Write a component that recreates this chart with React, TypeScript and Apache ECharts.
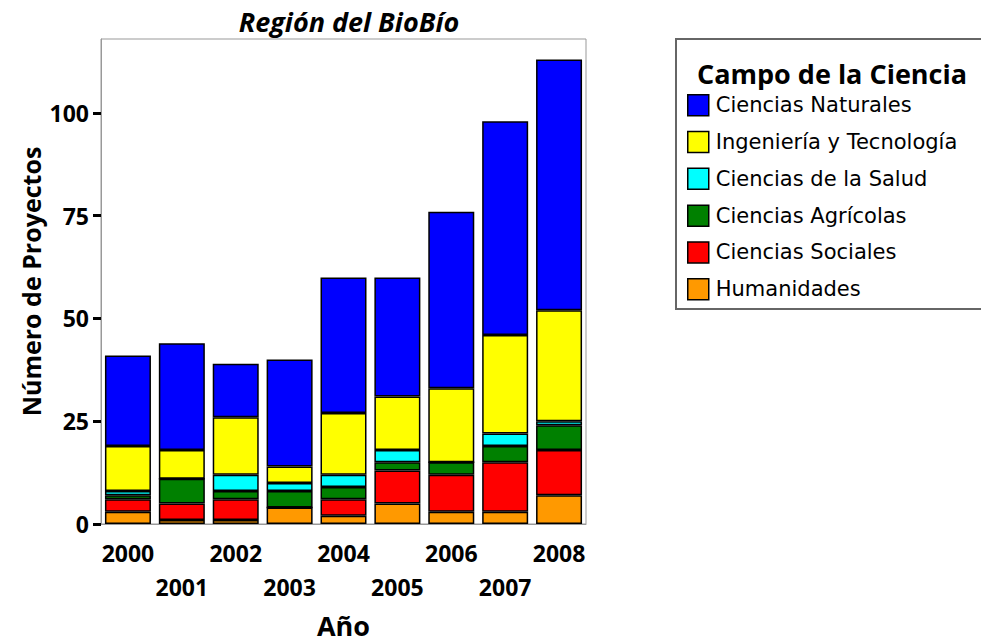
import React, { useEffect, useRef } from "react";
import * as echarts from "echarts";

const years = ["2000", "2001", "2002", "2003", "2004", "2005", "2006", "2007", "2008"];
const humanidades = [3, 1, 1, 4, 2, 5, 3, 3, 7];
const cienciasSociales = [3, 4, 5, 0, 4, 8, 9, 12, 11];
const cienciasAgricolas = [1, 6, 2, 4, 3, 2, 3, 4, 6];
const cienciasSalud = [1, 0, 4, 2, 3, 3, 0, 3, 1];
const ingenieria = [11, 7, 14, 4, 15, 13, 18, 24, 27];
const cienciasNaturales = [22, 26, 13, 26, 33, 29, 43, 52, 61];
const yTicks = [0, 25, 50, 75, 100];

const FONT = "'Open Sans', 'Noto Sans', sans-serif";
const LEGEND_FONT = "'DejaVu Sans', 'Open Sans', sans-serif";

export default function App() {
  const ref = useRef<HTMLDivElement>(null);
  useEffect(() => {
    if (!ref.current) return;
    const chart = echarts.init(ref.current, null, { renderer: "svg" });
    const mk = (name: string, data: number[], color: string) => ({
      name,
      type: "bar",
      stack: "total",
      data,
      barWidth: 46,
      itemStyle: { color, borderColor: "#000", borderWidth: 1.5 },
    });
    const series = [
      mk("Humanidades", humanidades, "#FF9900"),
      mk("Ciencias Sociales", cienciasSociales, "#FF0000"),
      mk("Ciencias Agrícolas", cienciasAgricolas, "#008000"),
      mk("Ciencias de la Salud", cienciasSalud, "#00FFFF"),
      mk("Ingeniería y Tecnología", ingenieria, "#FFFF00"),
      mk("Ciencias Naturales", cienciasNaturales, "#0000FF"),
    ];
    chart.setOption({
      animation: false,
      backgroundColor: "#fff",
      title: {
        text: "Región del BioBío",
        left: 344,
        top: 3,
        textAlign: "center",
        textStyle: { fontFamily: FONT, fontSize: 27, fontWeight: "bold", fontStyle: "italic", color: "#000" },
      },
      grid: {
        left: 101,
        right: 395,
        top: 39,
        bottom: 120,
        show: true,
        borderColor: "#999",
        borderWidth: 1,
        backgroundColor: "transparent",
      },
      xAxis: {
        type: "category",
        data: years,
        name: "Año",
        nameLocation: "middle",
        nameGap: 88,
        nameTextStyle: { fontFamily: FONT, fontSize: 27, fontWeight: "bold", color: "#000" },
        axisLine: { lineStyle: { color: "#999", width: 1 } },
        axisTick: { alignWithLabel: true, length: 11, lineStyle: { color: "#000", width: 3 } },
        axisLabel: {
          interval: 0,
          margin: 12,
          fontFamily: FONT,
          fontSize: 23,
          fontWeight: "bold",
          color: "#000",
          lineHeight: 34,
          formatter: (v: string, i: number) => (i % 2 === 1 ? "\n" + v : v),
        },
      },
      yAxis: {
        type: "value",
        min: 0,
        max: 118,
        interval: 25,
        name: "Número de Proyectos",
        nameLocation: "middle",
        nameGap: 58,
        nameRotate: 90,
        nameTextStyle: { fontFamily: FONT, fontSize: 25, fontWeight: "bold", color: "#000" },
        splitLine: { show: false },
        axisLine: { show: true, lineStyle: { color: "#999", width: 1 } },
        axisTick: { show: true, length: 8, customValues: yTicks, lineStyle: { color: "#000", width: 3 } },
        axisLabel: {
          customValues: yTicks,
          margin: 12,
          fontFamily: FONT,
          fontSize: 23,
          fontWeight: "bold",
          color: "#000",
        },
      },
      legend: {
        orient: "vertical",
        left: 687,
        top: 94,
        icon: "rect",
        itemWidth: 21,
        itemHeight: 21,
        itemGap: 14.3,
        padding: 0,
        data: [
          "Ciencias Naturales",
          "Ingeniería y Tecnología",
          "Ciencias de la Salud",
          "Ciencias Agrícolas",
          "Ciencias Sociales",
          "Humanidades",
        ],
        textStyle: { fontFamily: LEGEND_FONT, fontSize: 21, color: "#000", padding: [0, 0, 0, 2] },
        itemStyle: { borderColor: "#000", borderWidth: 1.5 },
        selectedMode: false,
      },
      graphic: [
        {
          type: "rect",
          z: -1,
          shape: { x: 676, y: 39, width: 330, height: 270 },
          style: { fill: "#fff", stroke: "#666", lineWidth: 2 },
        },
        {
          type: "text",
          x: 832,
          y: 73,
          style: {
            text: "Campo de la Ciencia",
            fontFamily: FONT,
            fontSize: 27,
            fontWeight: "bold",
            fill: "#000",
            textAlign: "center",
            textVerticalAlign: "middle",
          },
        },
      ],
      series,
    });
    return () => chart.dispose();
  }, []);
  return <div ref={ref} style={{ width: 981, height: 644, position: "absolute", left: 0, top: 0 }} />;
}
